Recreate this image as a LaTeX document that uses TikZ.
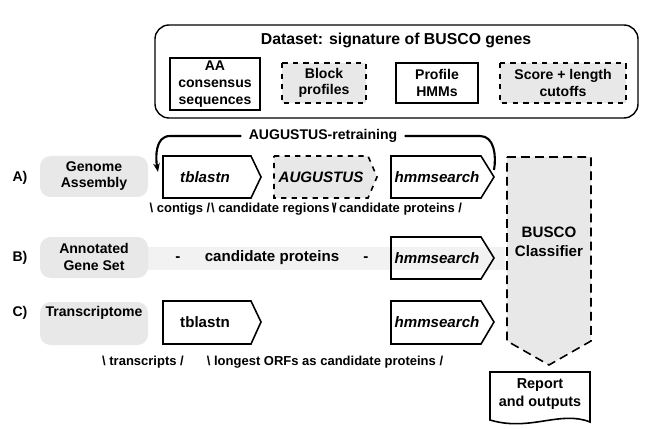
\documentclass[tikz,border=0pt]{standalone}
\usepackage{fontspec}
\setmainfont{Liberation Sans}
\usetikzlibrary{arrows.meta}
\definecolor{lg}{gray}{0.91}
\definecolor{bd}{gray}{0.95}
\begin{document}
\begin{tikzpicture}[x=0.02cm,y=-0.02cm,font=\fontsize{8}{9.5}\selectfont\bfseries,
 lab/.style={align=center,inner sep=1pt},
 sm/.style={font=\fontsize{7.4}{9}\selectfont\bfseries},
 big/.style={font=\fontsize{8.6}{10.5}\selectfont\bfseries},
 bigi/.style={font=\fontsize{8.6}{10.5}\selectfont\bfseries\itshape},
 pent/.style={line width=0.9pt}]
\useasboundingbox (0,0) rectangle (653,429);
% dataset
\draw[line width=0.8pt,rounded corners=8pt] (155,25) rectangle (638,118);
\node[lab,font=\fontsize{9}{11}\selectfont\bfseries] (ds) at (396,40) {Dataset: signature of BUSCO genes};
\draw[line width=0.9pt] (170,58) rectangle (260,110);
\node[lab] (aat) at (215,84) {AA\\consensus\\sequences};
\draw[line width=0.9pt,dashed,fill=lg] (282,63) rectangle (366,103);
\node[lab] (bp) at (324,83) {Block\\profiles};
\draw[line width=0.9pt] (396,63) rectangle (478,103);
\node[lab] (ph) at (437,83) {Profile\\HMMs};
\draw[line width=0.9pt,dashed,fill=lg] (500,63) rectangle (626,103);
\node[lab] (sc) at (563,83) {Score + length\\cutoffs};
% inputs
\fill[bd] (145,247) rectangle (505,270);
\fill[lg,rounded corners=6pt] (40,156) rectangle (148,197);
\node[lab] (ga) at (94,176) {Genome\\Assembly};
\fill[lg,rounded corners=6pt] (40,237) rectangle (148,278);
\node[lab] (ag) at (94,257) {Annotated\\Gene Set};
\fill[lg,rounded corners=6pt] (40,302) rectangle (148,345);
\node[lab] (tr) at (94,313) {Transcriptome};
\node[lab] (la) at (20,178) {A)};
\node[lab] (lb) at (20,258) {B)};
\node[lab] (lc) at (20,313) {C)};
% pentagons
\draw[pent] (163,156) -- (251,156) -- (261,177) -- (251,198) -- (163,198) -- cycle;
\node[lab,bigi] (tb1) at (205,177) {tblastn};
\draw[pent,dashed,fill=lg] (274,156) -- (368,156) -- (377,177) -- (368,198) -- (274,198) -- cycle;
\node[lab,bigi] (au) at (321,177) {AUGUSTUS};
\draw[pent] (391,156) -- (481,156) -- (494,177) -- (481,198) -- (391,198) -- cycle;
\node[lab,bigi] (hm1) at (437,177) {hmmsearch};
\draw[pent] (391,237) -- (481,237) -- (494,258) -- (481,279) -- (391,279) -- cycle;
\node[lab,bigi] (hm2) at (437,258) {hmmsearch};
\draw[pent] (163,301) -- (251,301) -- (261,322) -- (251,344) -- (163,344) -- cycle;
\node[lab,big] (tb2) at (205,322) {tblastn};
\draw[pent] (391,301) -- (481,301) -- (494,322) -- (481,344) -- (391,344) -- cycle;
\node[lab,bigi] (hm3) at (437,322) {hmmsearch};
% retraining
\node[lab,inner sep=4pt] (rt) at (323,136) {AUGUSTUS-retraining};
\draw[line width=1.2pt,-{Stealth[length=5pt]}] (rt.west) -- (170,136) to[out=180,in=100] (158,172);
\draw[line width=1.2pt] (rt.east) -- (480,136) to[out=0,in=80] (494,170);
% labels
\node[lab,sm] (l1) at (180,209) {\textbackslash\ contigs /};
\node[lab,sm] (l2) at (274,209) {\textbackslash\ candidate regions /};
\node[lab,sm] (l3) at (397,209) {\textbackslash\ candidate proteins /};
\node[lab,big] (d1) at (178,259) {-};
\node[lab,big] (cp) at (272,258) {candidate proteins};
\node[lab,big] (d2) at (366,259) {-};
\node[lab,sm] (l4) at (143,362) {\textbackslash\ transcripts /};
\node[lab,sm] (l5) at (325,362) {\textbackslash\ longest ORFs as candidate proteins /};
% classifier
\draw[line width=0.9pt,dash pattern=on 5pt off 3pt,fill=lg] (507,157) -- (591,157) -- (591,341) -- (549,365) -- (507,341) -- cycle;
\node[lab,big] (bc) at (549,242) {BUSCO\\Classifier};
% report
\draw[line width=0.9pt,fill=white] (490,372) -- (590,372) -- (590,422) .. controls (560,410) and (530,432) .. (490,420) -- cycle;
\node[lab,font=\fontsize{8.2}{10.5}\selectfont\bfseries] (rp) at (540,394) {Report\\and outputs};
\end{tikzpicture}
\end{document}
